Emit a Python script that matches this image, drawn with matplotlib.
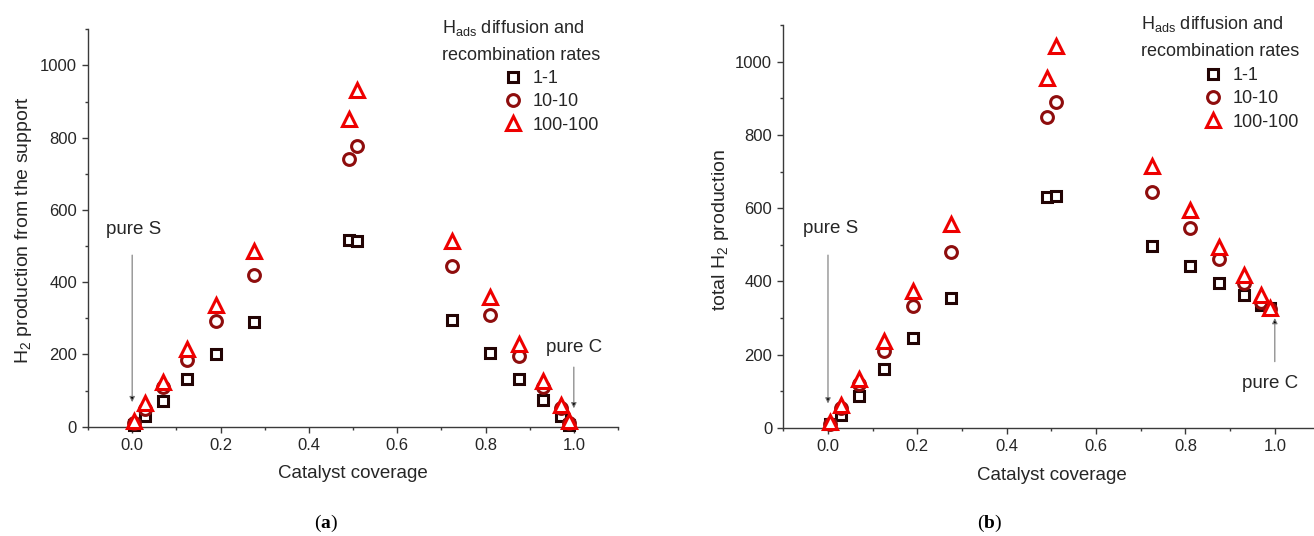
import numpy as np
import matplotlib
matplotlib.use("Agg")
import matplotlib.pyplot as plt
from matplotlib.ticker import MultipleLocator

plt.rcParams['font.family'] = ['Liberation Sans', 'DejaVu Sans']
plt.rcParams['mathtext.fontset'] = 'custom'
plt.rcParams['mathtext.rm'] = 'Liberation Sans'
plt.rcParams['mathtext.it'] = 'Liberation Sans:italic'
plt.rcParams['mathtext.bf'] = 'Liberation Serif:bold'

# catalyst coverage values (same for both panels)
coverage = [0.005, 0.03, 0.07, 0.125, 0.19, 0.275, 0.49, 0.51,
            0.725, 0.81, 0.875, 0.93, 0.97, 0.99]

# (a) H2 production from the support
support_1 = [5, 31, 72, 131, 201, 291, 517, 514, 294, 203, 132, 74, 31, 5]
support_10 = [10, 50, 110, 185, 293, 420, 742, 778, 446, 309, 196, 111, 51, 10]
support_100 = [17, 65, 125, 214, 337, 485, 852, 932, 515, 360, 228, 126, 60, 17]

# (b) total H2 production
total_1 = [10, 36, 87, 161, 246, 356, 630, 632, 498, 441, 397, 363, 336, 327]
total_10 = [12, 55, 121, 211, 333, 480, 849, 890, 643, 545, 461, 395, 345, 325]
total_100 = [16, 62, 135, 237, 374, 557, 954, 1043, 714, 596, 495, 418, 363, 327]

labels = ["1-1", "10-10", "100-100"]
markers = ["s", "o", "^"]
colors = ["#230404", "#8e0d0d", "#ee0000"]
sizes = [7.5, 8.5, 10.5]

W, H = 1314, 536
fig = plt.figure(figsize=(W / 100, H / 100), dpi=100)

def px_axes(x0, y0, x1, y1):
    # axes rectangle given in pixel coords of the picture (top-left origin)
    return fig.add_axes([x0 / W, 1 - y1 / H, (x1 - x0) / W, (y1 - y0) / H])

ax1 = px_axes(88, 29.3, 618, 426.7)
ax2 = px_axes(783.3, 25, 1319.5, 428)

txt = "#262626"

def style(ax, ylabel, ylab_x, ylab_y):
    ax.set_xlim(-0.1, 1.1)
    ax.set_ylim(0, 1100)
    ax.spines[['top', 'right']].set_visible(False)
    for s in ['left', 'bottom']:
        ax.spines[s].set_color("#3a3a3a")
        ax.spines[s].set_linewidth(1.0)
    ax.xaxis.set_major_locator(MultipleLocator(0.2))
    ax.xaxis.set_minor_locator(MultipleLocator(0.1))
    ax.yaxis.set_major_locator(MultipleLocator(200))
    ax.yaxis.set_minor_locator(MultipleLocator(100))
    ax.tick_params(which='major', direction='out', length=4, width=1.0,
                   color="#3a3a3a", labelsize=12, labelcolor=txt, pad=4)
    ax.tick_params(which='minor', direction='out', length=2.5, width=1.0,
                   color="#3a3a3a")
    ax.set_xticks([0.0, 0.2, 0.4, 0.6, 0.8, 1.0])
    ax.set_xticklabels(["0.0", "0.2", "0.4", "0.6", "0.8", "1.0"])
    ax.set_xlabel("Catalyst coverage", fontsize=13.5, color=txt)
    ax.xaxis.set_label_coords(0.5, -0.097)
    ax.xaxis.label.set_va('top')
    ax.set_ylabel(ylabel, fontsize=14, color=txt)
    ax.yaxis.set_label_coords(ylab_x, ylab_y)
    ax.yaxis.label.set_va('center')

def draw(ax, series):
    handles = []
    for ys, m, c, ms, lab in zip(series, markers, colors, sizes, labels):
        h, = ax.plot(coverage, ys, ls='none', marker=m, ms=ms, mfc='white',
                     mec=c, mew=2.2, clip_on=False, label=lab, zorder=3)
        handles.append(h)
    return handles

def legend(ax, handles, x_title, y_base1, x_mark, y_top):
    fig.text(x_title / W, 1 - y_base1 / H,
             r"H$_\mathrm{ads}$ diffusion and", fontsize=13, color=txt,
             va='baseline')
    fig.text(x_title / W, 1 - (y_base1 + 27) / H,
             "recombination rates", fontsize=13, color=txt, va='baseline')
    ax.legend(handles, labels, loc='upper left',
              bbox_to_anchor=((x_mark - 8) / W, 1 - y_top / H),
              bbox_transform=fig.transFigure, frameon=False, fontsize=13,
              handlelength=0.95, handletextpad=0.65, borderpad=0,
              borderaxespad=0, labelspacing=0.35, labelcolor=txt)

def arrow(ax, x, y_from, y_to):
    ax.annotate("", xy=(x, y_to), xytext=(x, y_from),
                arrowprops=dict(arrowstyle='-|>', color='#777777', lw=0.8,
                                mutation_scale=8, shrinkA=0, shrinkB=0,
                                fc='black', ec='#777777'))

# panel (a)
h1 = draw(ax1, [support_1, support_10, support_100])
style(ax1, r"H$_2$ production from the support", -0.121, 0.495)
legend(ax1, h1, 442, 33, 512, 70)
ax1.text(0.003, 545, "pure S", ha='center', va='center', fontsize=13.5, color=txt)
arrow(ax1, 0.0, 475, 68)
ax1.text(1.0, 218, "pure C", ha='center', va='center', fontsize=13.5, color=txt)
arrow(ax1, 1.0, 165, 51)

# panel (b)
h2 = draw(ax2, [total_1, total_10, total_100])
style(ax2, r"total H$_2$ production", -0.118, 0.49)
legend(ax2, h2, 1141, 29, 1212, 67)
ax2.text(0.005, 544, "pure S", ha='center', va='center', fontsize=13.5, color=txt)
arrow(ax2, 0.0, 472, 67)
ax2.text(0.99, 122, "pure C", ha='center', va='center', fontsize=13.5, color=txt)
arrow(ax2, 1.0, 181, 300)

fig.text(326 / W, 1 - 523 / H, r"($\mathbf{a}$)", fontsize=14,
         family='Liberation Serif', ha='center', va='center')
fig.text(990 / W, 1 - 523 / H, r"($\mathbf{b}$)", fontsize=14,
         family='Liberation Serif', ha='center', va='center')

fig.savefig("out.png", dpi=100)
